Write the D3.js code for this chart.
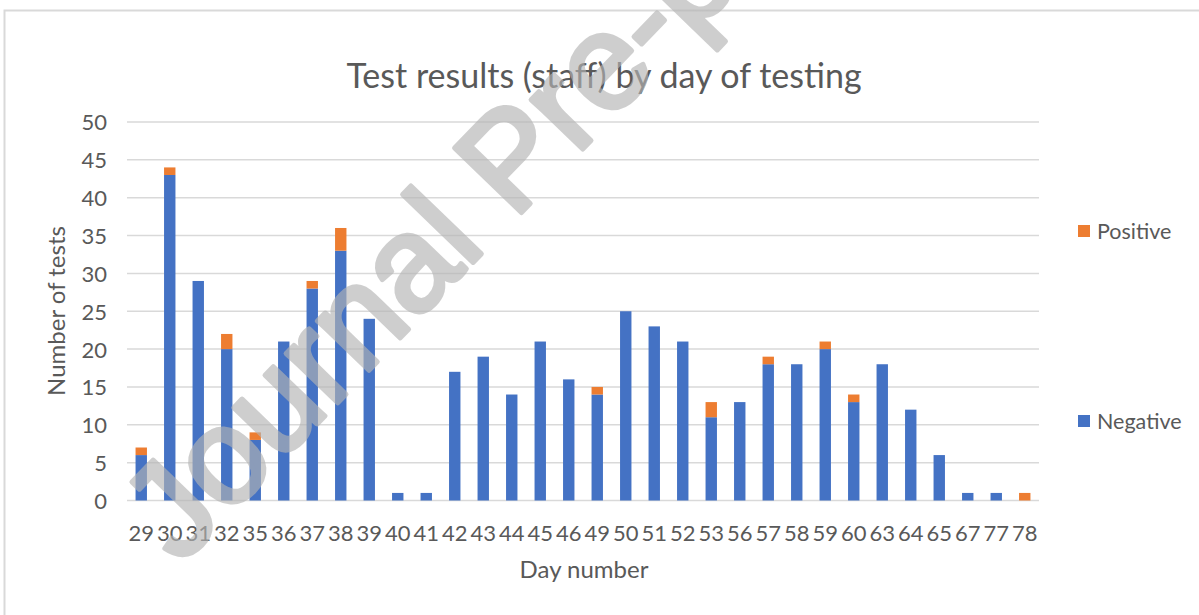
<!DOCTYPE html>
<html>
<head>
<meta charset="utf-8">
<script src="https://cdn.jsdelivr.net/npm/d3@7"></script>
<style>
  body { margin: 0; background: #fff; }
  text { font-family: Lato, "Open Sans", sans-serif; fill: #595959; }
</style>
</head>
<body>
<div id="chart"></div>
<script>
// Chart data
var days = ["29","30","31","32","35","36","37","38","39","40","41","42","43","44","45","46",
            "49","50","51","52","53","56","57","58","59","60","63","64","65","67","77","78"];
var negative = [6,43,29,20,8,21,28,33,24,1,1,17,19,14,21,16,14,25,23,21,11,13,18,18,20,13,18,12,6,1,1,0];
var positive = [1,1,0,2,1,0,1,3,0,0,0,0,0,0,0,0,1,0,0,0,2,0,1,0,1,1,0,0,0,0,0,1];
var yTicks = [0,5,10,15,20,25,30,35,40,45,50];
var seriesNames = ["Negative", "Positive"];
var colors = {Negative: "#4472C4", Positive: "#ED7D31"};

var svgWidth = 1199, svgHeight = 615;
var margin = {top: 122, left: 127, right: 160, bottom: 114.5};
var width = svgWidth - margin.left - margin.right;
var height = svgHeight - margin.top - margin.bottom;

var svg = d3.select("#chart").append("svg")
  .attr("width", svgWidth)
  .attr("height", svgHeight);

// chart frame
svg.append("rect")
  .attr("x", 4.5).attr("y", 10.5)
  .attr("width", 1220).attr("height", 640)
  .attr("fill", "none")
  .attr("stroke", "#d9d9d9")
  .attr("stroke-width", 2);

var g = svg.append("g")
  .attr("transform", `translate(${margin.left}, ${margin.top})`);

var table = days.map(function(d, i) {
  return {day: d, Negative: negative[i], Positive: positive[i]};
});
var stacked = d3.stack().keys(seriesNames)(table);

var x = d3.scaleBand().domain(days).range([0, width]).paddingInner(0.6).paddingOuter(0.3);
var y = d3.scaleLinear().domain([0, 50]).range([height, 0]);

// gridlines
g.selectAll("line.grid")
  .data(yTicks)
  .enter().append("line")
  .attr("class", "grid")
  .attr("x1", 0).attr("x2", width)
  .attr("y1", d => y(d)).attr("y2", d => y(d))
  .attr("stroke", "#d9d9d9")
  .attr("stroke-width", 1.5);

// y axis labels
var leftAxis = d3.axisLeft(y).tickValues(yTicks).tickSize(0).tickPadding(20);
var yAxis = g.append("g").call(leftAxis);
yAxis.select(".domain").remove();
yAxis.selectAll("text").style("font-size", "22px").attr("dy", "0.36em");

// x axis labels
var bottomAxis = d3.axisBottom(x).tickSize(0).tickPadding(25);
var xAxis = g.append("g").attr("transform", `translate(0, ${height})`).call(bottomAxis);
xAxis.select(".domain").remove();
xAxis.selectAll("text").style("font-size", "22px");

// bars
g.selectAll("g.series")
  .data(stacked)
  .enter().append("g")
  .attr("class", "series")
  .attr("fill", d => colors[d.key])
  .selectAll("rect")
  .data(d => d)
  .enter().append("rect")
  .attr("x", d => x(d.data.day))
  .attr("width", x.bandwidth())
  .attr("y", d => y(d[1]))
  .attr("height", d => y(d[0]) - y(d[1]));

// title
svg.append("text")
  .attr("x", 604).attr("y", 88)
  .attr("text-anchor", "middle")
  .style("font-size", "34px")
  .text("Test results (staff) by day of testing");

// axis titles
svg.append("text")
  .attr("x", 584).attr("y", 578)
  .attr("text-anchor", "middle")
  .style("font-size", "24px")
  .text("Day number");

svg.append("text")
  .attr("transform", "translate(65, 311) rotate(-90)")
  .attr("text-anchor", "middle")
  .style("font-size", "24px")
  .text("Number of tests");

// legend
var legendPos = {Positive: 231, Negative: 421};
var legend = svg.selectAll("g.legend")
  .data(["Positive", "Negative"])
  .enter().append("g")
  .attr("class", "legend")
  .attr("transform", d => `translate(1078, ${legendPos[d]})`);
legend.append("rect")
  .attr("x", 0).attr("y", -6)
  .attr("width", 12).attr("height", 12)
  .attr("fill", d => colors[d]);
legend.append("text")
  .attr("x", 19).attr("y", 0).attr("dy", "0.36em")
  .style("font-size", "21.5px")
  .text(d => d);

// watermark
svg.append("text")
  .attr("transform", "translate(180, 566) rotate(-46)")
  .style("font-family", "'Liberation Sans', Arial, sans-serif")
  .style("font-size", "135px")
  .style("fill", "#b4b4b4")
  .style("stroke", "#b4b4b4")
  .style("stroke-width", 5)
  .style("stroke-linejoin", "round")
  .style("opacity", 0.64)
  .text("Journal Pre-proof");
</script>
</body>
</html>
